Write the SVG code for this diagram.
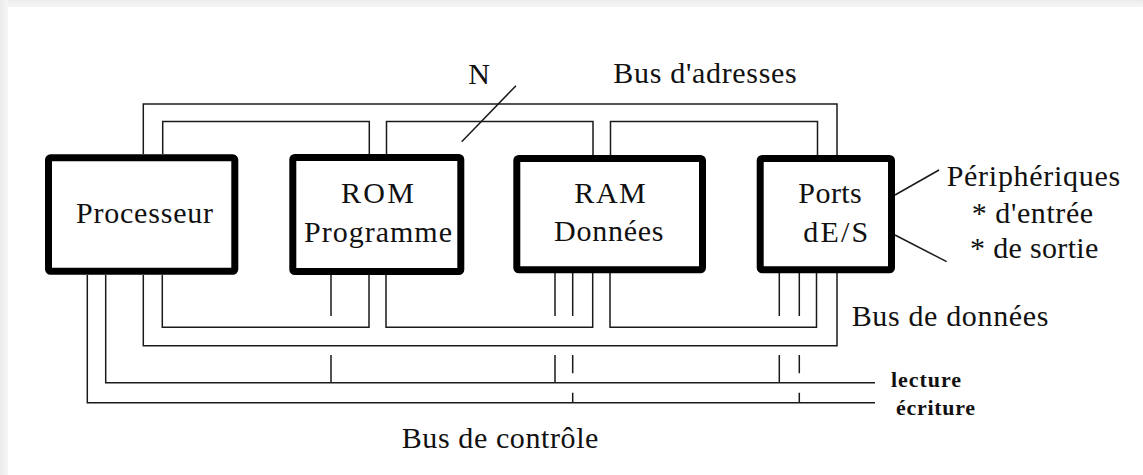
<svg xmlns="http://www.w3.org/2000/svg" width="1143" height="475" viewBox="0 0 1143 475">
<defs>
<linearGradient id="gTop" x1="0" y1="0" x2="0" y2="1"><stop offset="0" stop-color="#ececec"/><stop offset="1" stop-color="#f6f6f6"/></linearGradient>
<linearGradient id="gLeft" x1="0" y1="0" x2="1" y2="0"><stop offset="0" stop-color="#ececec"/><stop offset="1" stop-color="#f6f6f6"/></linearGradient>
</defs>
<style>
.box{fill:#fff;stroke:#000;stroke-width:7;stroke-linejoin:round}
.w{fill:none;stroke:#1a1a1a;stroke-width:1.5}
.t{font-family:"Liberation Serif","DejaVu Serif","Times New Roman",serif;font-size:30px;fill:#111}
.s{font-family:"Liberation Serif","DejaVu Serif","Times New Roman",serif;font-size:22px;font-weight:bold;fill:#111}
</style>
<rect width="1143" height="475" fill="#fff"/>
<rect x="0" y="0" width="1143" height="7" fill="url(#gTop)"/>
<rect x="0" y="0" width="8" height="475" fill="url(#gLeft)"/>

<g id="connectors">
<path class="w" d="M143.3,154 V104 H837 V155"/>
<path class="w" d="M162.7,154 V121.5 H369.3 V154"/>
<path class="w" d="M386.5,154 V121.5 H593 V155"/>
<path class="w" d="M610.5,155 V121.5 H817.5 V155"/>
<line class="w" x1="461.7" y1="141.7" x2="516" y2="85.7"/>
<path class="w" d="M162.3,275 V327.3 H369 V275"/>
<path class="w" d="M386,275 V327.3 H592.7 V273"/>
<path class="w" d="M610,273 V327.3 H816.5 V273"/>
<path class="w" d="M143.3,275 V345.7 H837 V273"/>
<path class="w" d="M331,275 V316 M555,273 V316 M572.7,273 V316 M779.3,273 V316 M799.3,273 V316"/>
<path class="w" d="M331,355 V382.7 M555,355 V382.7 M572.7,355 V373.3 M572.7,392.7 V402.7 M779.3,355 V382.7 M799.3,355 V373.3 M799.3,392.7 V402.7"/>
<path class="w" d="M105.7,275 V382.7 H875"/>
<path class="w" d="M87.3,275 V402.7 H875"/>
<line class="w" x1="895" y1="195" x2="939" y2="170"/>
<line class="w" x1="895" y1="235" x2="946.7" y2="261.7"/>
</g>

<g id="processeur">
<rect class="box" x="48.5" y="157.8" width="186.3" height="113.5" rx="2"/>
<text class="t" x="76" y="222.7" textLength="137" lengthAdjust="spacing">Processeur</text>
</g>
<g id="rom">
<rect class="box" x="292.8" y="157.5" width="168" height="114" rx="2"/>
<text class="t" x="341" y="203.3" textLength="73" lengthAdjust="spacing">ROM</text>
<text class="t" x="304" y="241.7" textLength="148" lengthAdjust="spacing">Programme</text>
</g>
<g id="ram">
<rect class="box" x="516.8" y="158.5" width="185.7" height="111.3" rx="2"/>
<text class="t" x="574.3" y="203.3" textLength="71.5" lengthAdjust="spacing">RAM</text>
<text class="t" x="554" y="241" textLength="109.5" lengthAdjust="spacing">Données</text>
</g>
<g id="ports">
<rect class="box" x="760.2" y="158.5" width="131.3" height="111.3" rx="2"/>
<text class="t" x="798.3" y="203.3" textLength="63.5" lengthAdjust="spacing">Ports</text>
<text class="t" x="803.3" y="241.7" textLength="65" lengthAdjust="spacing">dE/S</text>
</g>

<g id="labels">
<text class="t" x="468.3" y="84">N</text>
<text class="t" x="613.3" y="83.3" textLength="183.5" lengthAdjust="spacing">Bus d'adresses</text>
<text class="t" x="946.7" y="186" textLength="173.5" lengthAdjust="spacing">Périphériques</text>
<text class="t" x="971.7" y="222.7" textLength="121.5" lengthAdjust="spacing">* d'entrée</text>
<text class="t" x="970" y="258.3" textLength="128.3" lengthAdjust="spacing">* de sortie</text>
<text class="t" x="851.7" y="325.7" textLength="196.7" lengthAdjust="spacing">Bus de données</text>
<text class="s" x="891" y="387" textLength="70" lengthAdjust="spacing">lecture</text>
<text class="s" x="896" y="415" textLength="79" lengthAdjust="spacing">écriture</text>
<text class="t" x="401.7" y="448" textLength="196.7" lengthAdjust="spacing">Bus de contrôle</text>
</g>
</svg>
